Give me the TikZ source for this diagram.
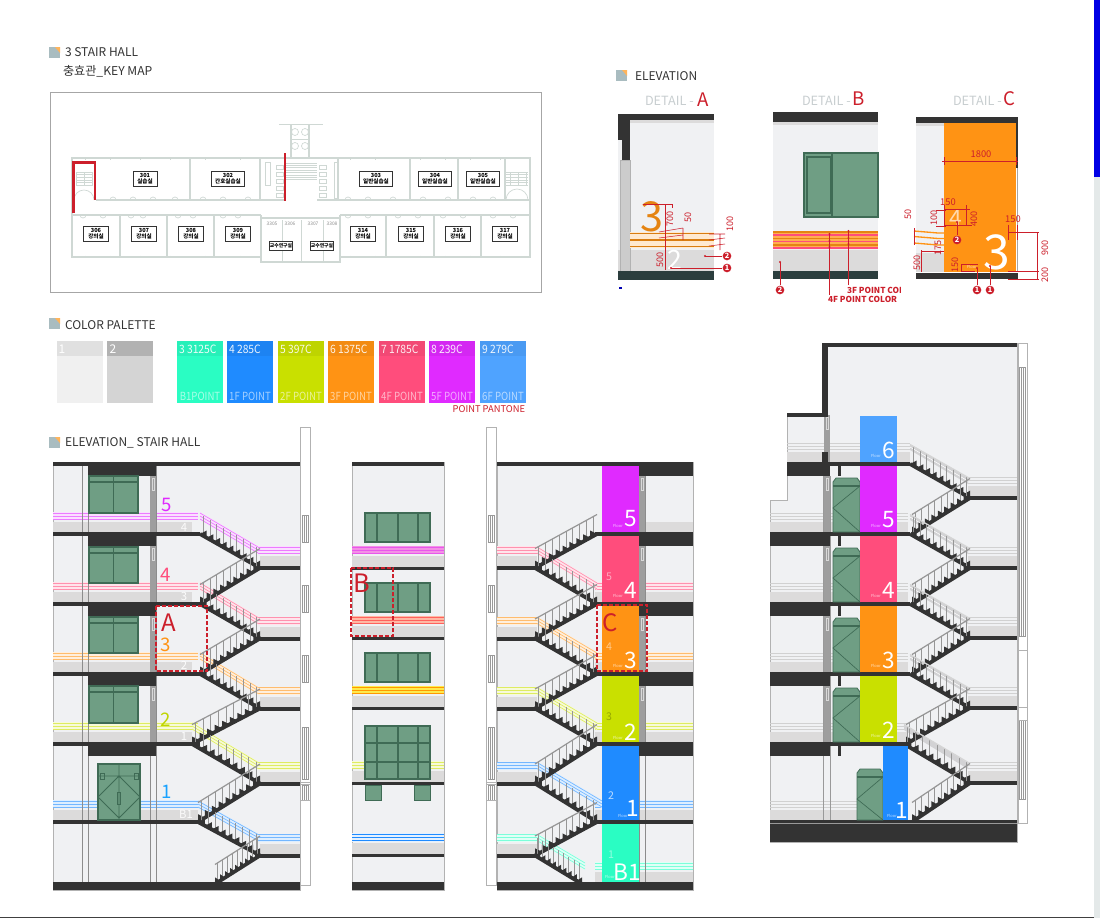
\documentclass[tikz,border=0pt]{standalone}
\usepackage{fontspec}
\setmainfont{Noto Sans CJK KR}
\usetikzlibrary{calc}
\definecolor{wallc}{HTML}{F0F1F3}
\definecolor{bandc}{HTML}{DCDBDB}
\definecolor{darkc}{HTML}{333333}
\definecolor{gfill}{HTML}{6F9E84}
\definecolor{gline}{HTML}{3F6B55}
\definecolor{redc}{HTML}{CC1F2B}
\definecolor{pmint}{HTML}{2AFDC3}
\definecolor{pblue}{HTML}{1F8BFF}
\definecolor{plime}{HTML}{C9E000}
\definecolor{porange}{HTML}{FF9314}
\definecolor{ppink}{HTML}{FF4D7C}
\definecolor{pmag}{HTML}{E02AFF}
\definecolor{psky}{HTML}{4FA3FF}
\definecolor{ptitle}{HTML}{A9BCC0}
\definecolor{planw}{HTML}{CFD8D4}
\definecolor{railg}{HTML}{969696}
\definecolor{railp}{HTML}{D2D2D4}
\definecolor{textc}{HTML}{333333}
\definecolor{detg}{HTML}{C8CED0}
\definecolor{edgec}{HTML}{E4E9E9}
\newcount\tcnt
\tikzset{
  txt/.style={inner sep=0pt,outer sep=0pt,text=textc},
  baluster/.style={draw=railg,line width=0.7pt},
  dimline/.style={draw=redc,line width=0.4pt},
  planwall/.style={draw=planw,line width=0.8pt},
  planthin/.style={draw=planw,line width=0.5pt},
  redbox/.style={draw=redc,line width=1.5pt,dash pattern=on 3pt off 1.5pt},
  gwin/.style={fill=gfill,draw=gline,line width=0.9pt},
  markc/.style={circle,fill=redc,text=white,inner sep=0pt,minimum size=6.5pt,font=\fontsize{5.5}{5.5}\selectfont\bfseries},
  roomlab/.style={draw=black!80,fill=white,line width=0.4pt,inner sep=0pt,align=center,text=black,font=\fontsize{4.2}{4.6}\selectfont\bfseries},
}
\newcommand\T[5][]{\global\advance\tcnt by 1 \node[txt,#1] (t\the\tcnt) at (#2,#3) {\fontsize{#4}{#4}\selectfont #5};}
\newcommand\icon[2]{\fill[ptitle] (#1,#2) rectangle ++(11,11);\fill[porange!70] (#1+6,#2) -- (#1+11,#2) -- (#1+11,#2+6) -- cycle;}
\newcommand\room[5]{\global\advance\tcnt by 1 \node[roomlab,minimum width=#3*0.75pt,minimum height=#4*0.75pt] (t\the\tcnt) at (#1,#2) {#5};}
% flight of steps: x1<x2
\newcommand\flight[5]{%
  \pgfmathsetmacro\fdx{(#3-#1)/9}\pgfmathsetmacro\fdy{(#4-#2)/9}%
  \foreach \i in {0,...,8}{%
    \pgfmathsetmacro\fxx{#1+\i*\fdx}\pgfmathsetmacro\fyy{#2+\i*\fdy}%
    \pgfmathsetmacro\fcx{\fdy>0 ? \fxx+\fdx : \fxx}\pgfmathsetmacro\fcy{\fdy>0 ? \fyy : \fyy+\fdy}%
    \draw[baluster] (\fxx+0.5*\fdx,\fyy+0.5*\fdy-2) -- (\fxx+0.5*\fdx,\fyy+0.5*\fdy-19.5);
    \fill[darkc] (\fxx,\fyy) -- (\fxx+\fdx,\fyy+\fdy) -- (\fcx,\fcy-3.5) -- cycle;
  }%
  \draw[darkc,line width=2.8pt] (#1,#2) -- (#3,#4);
  \draw[#5,line width=0.9pt] (#1,#2-19.5) -- (#3,#4-19.5);
}
\newcommand\crail[5]{%
  \fill[#5!15] (#1,#2-22) -- (#3,#4-22) -- (#3,#4-14) -- (#1,#2-14) -- cycle;
  \foreach \o in {21,18,15}{\draw[#5!62,line width=0.5pt] (#1,#2-\o) -- (#3,#4-\o);}
}
\newcommand\stripes[4]{% x1 x2 y colour
  \fill[#4!15] (#1,#3-22) rectangle (#2,#3-14);
  \foreach \o in {21,18,15}{\draw[#4!62,line width=0.5pt] (#1,#3-\o) -- (#2,#3-\o);}
}
\newcommand\grayst[3]{% x1 x2 y
  \foreach \o in {21,18,15}{\draw[black!18,line width=0.5pt] (#1,#3-\o) -- (#2,#3-\o);}
}
\newcommand\band[3]{\fill[bandc] (#1,#3-12) rectangle (#2,#3-2);}
\newcommand\wina[2]{\draw[gwin] (89,#1) rectangle (138,#2);\draw[gline,line width=0.8pt] (89,#1+6) -- (138,#1+6) (113.5,#1) -- (113.5,#2);}
\newcommand\winb[2]{\draw[gwin] (365,#1) rectangle (430,#2);\draw[gline,line width=0.8pt] (377,#1) -- (377,#2) (398,#1) -- (398,#2) (418,#1) -- (418,#2);}
\newcommand\pillar[3]{\fill[black!38] (#1,#2) rectangle (#1+6,#3);\draw[black!15,line width=0.4pt] (#1+2,#2+2) rectangle (#1+4,#2+14);}
\newcommand\swin[3]{\draw[black!40,line width=0.4pt,fill=white] (#1+2,#2) rectangle (#1+8,#3);\draw[black!40,line width=0.4pt] (#1+4,#2) -- (#1+4,#3) (#1+6,#2) -- (#1+6,#3);}
\newcommand\striph[1]{%
  \draw[black!30,line width=0.5pt,fill=white] (#1,427) rectangle (#1+10,885);
  \swin{#1}{515}{542}\swin{#1}{585}{612}\swin{#1}{655}{682}\swin{#1}{727}{779}\swin{#1}{785}{800}
  \draw[black!30,line width=0.4pt] (#1,782) -- (#1+10,782) (#1,784) -- (#1+10,784) (#1,800) -- (#1+10,800);
}
\newcommand\pdoor[4]{% x1 x2 ytop ybot
  \draw[gwin,line width=0.6pt] (#1,#3+4) -- (#1+3,#3) -- (#2-3,#3) -- (#2,#3+4) -- (#2,#4) -- (#1,#4) -- cycle;
  \draw[gline,line width=1pt] (#1,#3+8) -- (#2,#3+8);
  \draw[gline,line width=0.5pt] (#2,#3+8) -- (#1,#3+30) -- (#2,#4);
}
\newcommand\colnum[4]{\T[text=white]{#1}{#2}{#3}{#4}}
\newcommand\floorw[2]{\T[text=white,opacity=.75]{#1}{#2}{3}{Floor}}
\newcommand\lead[6]{% dot x,y marker x,y, name, n
  \coordinate (d#5) at (#1,#2);
  \node[markc] (m#5) at (#3,#4) {#6};
  \fill[redc] (d#5) circle (1.2);
  \draw[dimline] (d#5) -- (m#5);
}
\begin{document}
\begin{tikzpicture}[x=0.75pt,y=-0.75pt]
\useasboundingbox (0,0) rectangle (1100,918);
\fill[white] (0,0) rectangle (1100,918);
% page edge
\fill[edgec] (1094,0) rectangle (1100,918);
\fill[blue!90!black] (1094,0) rectangle (1100,177);
\fill[black!75] (0,917) rectangle (1094,918);
% titles
\icon{49}{47}
\T[anchor=west]{65}{52}{9}{3 STAIR HALL}
\T[anchor=west]{63}{71}{9.1}{충효관\_KEY MAP}
\icon{616}{70}
\T[anchor=west]{635}{76}{9}{ELEVATION}
\icon{49}{318}
\T[anchor=west]{65}{325}{9}{COLOR PALETTE}
\icon{49}{437}
\T[anchor=west]{65}{443}{9}{ELEVATION\_ STAIR HALL}
% ---------- key map
\draw[black!35,line width=0.6pt,fill=white] (50.5,92) rectangle (541.5,292);
\draw[planwall] (72,158) -- (530,158) -- (530,257) -- (340,257) -- (340,262) -- (261,262) -- (261,257) -- (72,257) -- cycle;
\draw[planwall] (96,200) -- (285,200) (317,200) -- (530,200);
\draw[planwall] (72,215) -- (261,215) (340,215) -- (530,215);
\foreach \x in {190,260,338,410,458,505}{\draw[planwall] (\x,158) -- (\x,200);}
\foreach \x in {120,167,214,261,340,386,434,481}{\draw[planwall] (\x,215) -- (\x,257);}
\foreach \x in {282,301,323}{\draw[planthin] (\x,220) -- (\x,262);}
\draw[planwall] (261,218) -- (340,218);
\foreach \x in {110,130,150,172,200,220,245,345,365,390,420,445,470,490}{\draw[planthin] (\x,200) arc (180:360:3);}
\foreach \x in {80,100,128,140,175,190,220,235,345,365,395,415,440,460,490,510}{\draw[planthin] (\x,215) arc (180:0:3);}
\foreach \x in {85,110,140,170,205,240,350,375,420,445,470,500}{\draw[planthin] (\x,158) -- (\x,159.5) (\x,255.5) -- (\x,257);}
% annex and stairs
\draw[planwall] (291,158) -- (291,124) (309,124) -- (309,158);
\draw[planthin] (279,124) -- (323,124);
\foreach \y in {132,146}{\draw[planthin] (295,\y) circle (3.5) (305,\y) circle (3.5);}
\draw[planthin] (291,139) -- (309,139);
\foreach \i in {0,...,5}{\draw[planthin] (76,172+\i*2.7) -- (92,172+\i*2.7) (506,172+\i*2.7) -- (528,172+\i*2.7);}
\foreach \i in {0,...,7}{\draw[planthin] (286,163+\i*2.4) -- (317,163+\i*2.4);}
\foreach \x in {76,84,92,510,518,526}{\draw[planthin] (\x,172) -- (\x,186);}
\draw[planthin] (74,200) arc (180:270:10) (94,200) arc (0:-90:10) (506,200) arc (180:270:11) (528,200) arc (0:-90:11);
\foreach \y in {165,172,179,186,193}{\draw[planthin] (276,\y) rectangle (283,\y+4) (319,\y) rectangle (326,\y+4);}
\draw[planthin] (265,162) rectangle (270,185);
\draw[planthin] (334,162) rectangle (337,198);
\draw[redc,line width=1.7pt] (73.5,213) -- (73.5,162.5) -- (95,162.5) -- (95,200);
\draw[redc,line width=1.7pt] (285,153) -- (285,201);
\room{145}{179}{24}{15}{301\\실습실}
\room{228}{179}{33}{15}{302\\간호실습실}
\room{376}{179}{33}{15}{303\\일반실습실}
\room{435}{179}{33}{15}{304\\일반실습실}
\room{483}{179}{33}{15}{305\\일반실습실}
\room{96}{234}{25}{15}{306\\강의실}
\room{144}{234}{25}{15}{307\\강의실}
\room{191}{234}{25}{15}{308\\강의실}
\room{238}{234}{25}{15}{309\\강의실}
\room{363}{234}{25}{15}{314\\강의실}
\room{411}{234}{25}{15}{315\\강의실}
\room{458}{234}{25}{15}{316\\강의실}
\room{505}{234}{25}{15}{317\\강의실}
\room{281}{246}{23}{9}{\fontsize{3.6}{4}\selectfont 교수연구실}
\room{322}{246}{23}{9}{\fontsize{3.6}{4}\selectfont 교수연구실}
\T[text=black!45]{272}{224}{3.6}{3305}
\T[text=black!45]{290}{224}{3.6}{3306}
\T[text=black!45]{313}{224}{3.6}{3307}
\T[text=black!45]{332}{224}{3.6}{3308}
% ---------- palette
\fill[black!6!white] (57,341) rectangle (103,403);
\fill[black!12!white] (57,341) rectangle (103,356);
\fill[black!17!white] (107,341) rectangle (153,403);
\fill[black!30!white] (107,341) rectangle (153,356);
\T[text=white]{62}{349}{9}{1}
\T[text=white]{113}{349}{9}{2}
\newcommand\swatch[5]{\fill[#2] (#1,341) rectangle ++(46,62);\fill[black,opacity=.05] (#1,341) rectangle ++(46,15);
 \T[text=white,opacity=.9,anchor=west]{#1+2}{349}{8.6}{\scalebox{.9}[1]{#3}}\T[text=white,opacity=.6]{#1+23}{396}{8.4}{\scalebox{.86}[1]{#4}}}
\swatch{177}{pmint}{3 3125C}{B1POINT}{}
\swatch{227}{pblue}{4 285C}{1F POINT}{}
\swatch{278}{plime}{5 397C}{2F POINT}{}
\swatch{328}{porange}{6 1375C}{3F POINT}{}
\swatch{379}{ppink}{7 1785C}{4F POINT}{}
\swatch{429}{pmag}{8 239C}{5F POINT}{}
\swatch{480}{psky}{9 279C}{6F POINT}{}
\T[text=redc,anchor=east]{525}{409}{7}{POINT PANTONE}
% ---------- detail A
\T[text=detg,anchor=west]{645}{101}{9.5}{DETAIL -}
\T[text=redc]{703}{100}{14}{A}
\fill[wallc] (618,114) rectangle (714,272);
\fill[bandc] (618,250) rectangle (714,272);
\fill[bandc] (630,120) rectangle (714,123);
\fill[darkc] (618,114) rectangle (714,120);
\fill[darkc] (618,114) rectangle (630,140);
\fill[darkc] (622,140) rectangle (630,160);
\draw[black!30,fill=black!20,line width=0.4pt] (620,160) rectangle (630,275);
\fill[porange!20] (630,232) rectangle (714,248);
\foreach \y in {233.5,240,246.5}{\draw[porange!85!black,line width=1.3pt] (630,\y) -- (714,\y);}
\fill[darkc!85!teal] (618,271) rectangle (714,280);
\T[text=porange!90!black]{652}{217}{31}{3}
\T[text=white]{675}{260}{20}{2}
\draw[dimline] (643,204) -- (672,204) (665,204) -- (665,270) (672,204) -- (672,208);
\draw[dimline] (659,232) -- (683,228) (659,238) -- (683,235) (683,228) -- (683,240);
\draw[dimline] (709,234) -- (725,234) (709,240) -- (725,238) (709,246) -- (725,244) (720,234) -- (720,250);
\T[text=redc,rotate=90]{670}{219}{6.8}{700}
\T[text=redc,rotate=90]{688}{217}{6.8}{50}
\T[text=redc,rotate=90]{730}{224}{6.8}{100}
\T[text=redc,rotate=90]{660}{260}{6.8}{500}
\lead{705}{256}{727}{256}{a2}{2}
\lead{671}{268}{727}{268}{a1}{1}
\fill[blue!70!black] (619,287) rectangle (622,289);
% ---------- detail B
\T[text=detg,anchor=west]{802}{101}{9.5}{DETAIL -}
\T[text=redc]{859}{99}{14}{B}
\fill[wallc] (773,112) rectangle (878,272);
\fill[darkc] (773,112) rectangle (878,122);
\fill[bandc] (773,122) rectangle (878,125);
\fill[bandc] (773,250) rectangle (878,271);
\draw[gwin] (804,153) rectangle (878,217);
\draw[gline,line width=1pt] (832,153) -- (832,217) (807,157) rectangle (831,213);
\fill[porange!75] (773,231) rectangle (878,248);
\foreach \y in {232,238.5,245}{\draw[porange!90!black,line width=1pt] (773,\y) -- (878,\y);}
\foreach \y in {235,241.5,248}{\draw[ppink,line width=0.9pt] (773,\y) -- (878,\y);}
\fill[darkc!85!teal] (773,271) rectangle (878,279);
\foreach \y in {234,241,247}{\fill[redc] (829.5,\y) circle (1.2);}
\foreach \y in {231,238,244}{\fill[redc] (848.5,\y) circle (1.2);}
\draw[dimline] (829.5,234) -- (829.5,295) (848.5,231) -- (848.5,285);
\begin{scope}
\clip (760,280) rectangle (900,306);
\T[text=redc,anchor=west,font=\bfseries]{847}{290}{6.2}{3F POINT COLOR}
\T[text=redc,anchor=west,font=\bfseries]{828}{299}{6.2}{4F POINT COLOR}
\end{scope}
\lead{780}{262}{780}{290}{b2}{2}
% ---------- detail C
\T[text=detg,anchor=west]{953}{101}{9.5}{DETAIL -}
\T[text=redc]{1009}{99}{14}{C}
\fill[wallc] (916,117) rectangle (944,272);
\fill[bandc] (916,253) rectangle (944,272);
\fill[bandc] (916,123) rectangle (944,126);
\fill[porange] (944,123) rectangle (1016,272);
\fill[darkc] (916,117) rectangle (1018,123);
\fill[darkc] (1016,117) rectangle (1018,168);
\fill[black!35] (1016.5,168) rectangle (1018,272);
\fill[darkc] (916,273) rectangle (1018,279);
\foreach \y in {231,236.5,243}{\draw[porange,line width=1pt] (914,\y) -- (938,\y+2) -- (944,\y+2);}
\T[text=white]{997}{252}{36}{3}
\T[text=white,opacity=.65]{956}{218}{17}{4}
\floorw{972}{267}
\draw[dimline] (942,161) -- (1018,161) (944,157) -- (944,165) (1016,157) -- (1016,165);
\T[text=redc]{981}{154}{7}{1800}
\draw[dimline] (944,209) -- (970,209) (944,225) -- (972,225) (944,205) -- (944,226) (966,205) -- (966,226);
\T[text=redc]{948}{202}{7}{150}
\T[text=redc,rotate=90]{974}{219}{6.8}{400}
\T[text=redc,rotate=90]{934}{218}{6.8}{100}
\T[text=redc,rotate=90]{908}{214}{6.8}{50}
\T[text=redc,rotate=90]{938}{248}{6.8}{175}
\T[text=redc,rotate=90]{917}{263}{6.8}{500}
\T[text=redc,rotate=90]{955}{265}{6.8}{150}
\T[text=redc]{1013}{219}{7}{150}
\T[text=redc,rotate=90]{1045}{248}{6.8}{900}
\T[text=redc,rotate=90]{1045}{275}{6.8}{200}
\draw[dimline] (1008,232) -- (1039,232) (1037,232) -- (1037,279) (1008,271) -- (1039,271) (1008,279) -- (1039,279);
\draw[dimline] (1008,225) -- (1008,240) (1017,225) -- (1017,240);
\draw[dimline] (961,264) -- (961,271) (961,264) -- (978,264) (961,271) -- (975,271);
\draw[dimline] (914,228) -- (914,245) (921,250) -- (921,272) (921,251) -- (944,251);
\draw[dimline] (936,210) -- (946,210) (936,226) -- (946,226);
\lead{957}{222}{957}{240}{c2}{2}
\lead{977}{268}{977}{290}{c1}{1}
\lead{990}{266}{990}{290}{c3}{1}
% ---------- panel 1
\striph{300}
\fill[wallc] (53,462) rectangle (300,890);
\draw[black!30,line width=0.5pt] (53,462) rectangle (300,890);
\foreach \y/\c in {534/pmag,604/ppink,674/porange,744/plime}{\band{53}{192}{\y}\stripes{53}{198}{\y}{\c}}
\band{53}{198}{822}\stripes{53}{198}{822}{pblue}
\foreach \y/\c in {568/pmag,638.5/ppink,708.5/porange,783.5/plime,855.5/pblue}{\band{260}{300}{\y}\stripes{258}{300}{\y}{\c}}
\foreach \x in {82.5,88.5,150,156}{\draw[black!45,line width=0.4pt] (\x,462) -- (\x,882);}
\foreach \a/\b in {476/532,546/602,616/672,686/742}{\pillar{150}{\a}{\b}}
\crail{200}{534}{258}{568}{pmag}\crail{200}{604}{258}{638.5}{ppink}\crail{200}{674}{258}{708.5}{porange}\crail{192}{744}{258}{783.5}{plime}\crail{198}{822}{258}{855.5}{pblue}
\flight{200}{534}{260}{568}{opacity=0}
\flight{200}{604}{260}{568}{railg}
\flight{200}{604}{260}{638.5}{opacity=0}
\flight{200}{674}{260}{638.5}{railg}
\flight{200}{674}{260}{708.5}{opacity=0}
\flight{192}{744}{260}{708.5}{railg}
\flight{192}{744}{260}{783.5}{opacity=0}
\flight{198}{822}{260}{783.5}{railg}
\flight{198}{822}{260}{855.5}{opacity=0}
\flight{215}{884}{260}{855.5}{railg}
\fill[darkc] (53,462) rectangle (300,466);
\foreach \y in {534,604,674,744,822}{\fill[darkc] (53,\y-2) rectangle (200,\y+2);}
\foreach \y in {568,638.5,708.5,783.5,855.5}{\fill[darkc] (260,\y-2) rectangle (300,\y+2);}
\fill[darkc] (53,882) rectangle (300,890);
\foreach \a in {462,532,602,672,742}{\fill[darkc] (88,\a) rectangle (156,\a+14);}
\wina{476}{513}\wina{547}{583}\wina{617}{653}\wina{686}{723}
\draw[gwin] (98,764) rectangle (140,820);
\draw[gline,line width=0.6pt] (119,764) -- (119,820) (119,776) -- (140,797) -- (119,818) -- (98,797) -- cycle (98,776) -- (140,776);
\draw[gline,line width=0.6pt] (117.5,792) rectangle (120.5,804) (100,773) rectangle (104,779) (134,773) rectangle (138,779);
\T[text=pmag]{167}{505}{14}{5}
\T[text=ppink]{166}{575}{14}{4}
\T[text=porange]{166}{645}{14}{3}
\T[text=plime!95!black]{166}{720}{14}{2}
\T[text=pblue!80!cyan]{167}{792}{14}{1}
\T[text=white,opacity=.9]{184}{527}{8.5}{4}
\T[text=white,opacity=.9]{184}{596}{8.5}{3}
\T[text=white,opacity=.9]{184}{665}{8.5}{2}
\T[text=white,opacity=.9]{184}{736}{8.5}{1}
\T[text=white,opacity=.9]{186}{814}{8.5}{B1}
% ---------- panel 2
\fill[wallc] (352,462) rectangle (444,890);
\draw[black!30,line width=0.5pt] (352,462) rectangle (444,890);
\foreach \y in {568,638,708,783,855}{\fill[bandc] (352,\y-12) rectangle (444,\y-1);}
\fill[pmag!50!pink!80!white] (352,546) rectangle (444,554);
\foreach \y in {547,550,553}{\draw[pmag!70!pink,line width=0.5pt] (352,\y) -- (444,\y);}
\fill[porange!50!ppink!50!white] (352,616) rectangle (444,624);
\foreach \y in {617,620,623}{\draw[ppink!70!porange,line width=0.5pt] (352,\y) -- (444,\y);}
\fill[yellow!85!orange!70!white] (352,686) rectangle (444,694);
\foreach \y in {687,690,693}{\draw[orange!80!yellow,line width=0.5pt] (352,\y) -- (444,\y);}
\stripes{352}{444}{783}{plime}
\fill[pblue!12] (352,833) rectangle (444,842);
\foreach \y in {834,837,840}{\draw[pblue,line width=0.55pt] (352,\y) -- (444,\y);}
\fill[darkc] (352,462) rectangle (444,466);
\foreach \y in {568,638,708,783,855}{\fill[darkc] (352,\y-1.5) rectangle (444,\y+1.5);}
\fill[darkc] (352,882) rectangle (444,890);
\winb{513}{542}\winb{583}{612}\winb{653}{682}
\winb{726}{779}
\draw[gline,line width=0.8pt] (365,743) -- (430,743) (365,762) -- (430,762);
\draw[gwin,line width=.6pt] (365,785) rectangle (381,800) (414,785) rectangle (430,800);
% ---------- panel 3
\striph{486}
\fill[wallc] (497,462) rectangle (693,890);
\draw[black!30,line width=0.5pt] (497,462) rectangle (693,890);
\foreach \y/\c in {568/ppink,638.5/porange,708.5/plime,783.5/pblue,855.5/pmint}{\band{497}{537}{\y}\stripes{497}{537}{\y}{\c}}
\band{645}{693}{534}
\foreach \y/\c in {604/ppink,674/porange,744/plime,822/pblue,884/pmint}{\band{595}{693}{\y}\stripes{595}{693}{\y}{\c}}
\foreach \x in {639,645}{\draw[black!45,line width=0.4pt] (\x,462) -- (\x,882);}
\foreach \a/\b in {476/532,546/602,616/672,686/742}{\pillar{639}{\a}{\b}}
\crail{537}{568}{597}{604}{ppink}\crail{537}{638.5}{597}{674}{porange}\crail{537}{708.5}{597}{744}{plime}\crail{537}{783.5}{602}{822}{pblue}\crail{537}{855.5}{585}{884}{pmint}
\flight{535}{568}{597}{534}{railg}
\flight{535}{568}{597}{604}{opacity=0}
\flight{535}{638.5}{597}{604}{railg}
\flight{535}{638.5}{597}{674}{opacity=0}
\flight{535}{708.5}{597}{674}{railg}
\flight{535}{708.5}{597}{744}{opacity=0}
\flight{535}{783.5}{597}{744}{railg}
\flight{535}{783.5}{597}{822}{opacity=0}
\flight{535}{855.5}{597}{822}{railg}
\flight{535}{855.5}{582}{884}{opacity=0}
\fill[darkc] (497,462) rectangle (693,466);
\foreach \y in {534,604,674,744,822}{\fill[darkc] (595,\y-2) rectangle (693,\y+2);}
\foreach \y in {568,638.5,708.5,783.5,855.5}{\fill[darkc] (497,\y-2) rectangle (537,\y+2);}
\fill[darkc] (497,882) rectangle (693,890);
\foreach \a in {462,532,602,672,742}{\fill[darkc] (639,\a) rectangle (693,\a+14);}
\fill[pmag] (602,466) rectangle (639,532);
\fill[ppink] (602,536) rectangle (639,602);
\fill[porange] (602,606) rectangle (639,672);
\fill[plime] (602,676) rectangle (639,742);
\fill[pblue] (602,746) rectangle (639,820);
\fill[pmint] (602,824) rectangle (639,882);
\colnum{631}{519}{17}{5}\colnum{631}{590}{17}{4}\colnum{631}{660}{17}{3}\colnum{631}{732}{17}{2}\colnum{633}{808}{17}{1}\colnum{627}{872}{17}{B1}
\floorw{618}{526}\floorw{618}{596}\floorw{618}{666}\floorw{618}{738}\floorw{623}{816}\floorw{610}{877}
\T[text=white,opacity=.5]{609}{577}{8}{5}
\T[text=white,opacity=.5]{609}{647}{8}{4}
\T[text=black,opacity=.25]{609}{717}{8}{3}
\T[text=white,opacity=.7]{611}{796}{8}{2}
\T[text=white,opacity=.5]{611}{855}{8}{1}
% ---------- panel 4
\draw[black!30,line width=0.5pt,fill=white] (1018,343) rectangle (1027,823);
\swin{1017.5}{367}{636}\swin{1017.5}{720}{799}
\draw[black!30,line width=0.4pt] (1018,650) -- (1027,650) (1018,707) -- (1027,707) (1018,720) -- (1027,720);
\draw[black!30,line width=0.5pt,fill=wallc] (822,343) -- (1017,343) -- (1017,842) -- (770,842) -- (770,500) -- (787,500) -- (787,415) -- (822,415) -- cycle;
\foreach \y in {464}{\band{787}{910}{\y}\grayst{787}{910}{\y}}
\foreach \y in {534,604,674,744}{\band{770}{908}{\y}\grayst{770}{908}{\y}}
\band{770}{885}{822}\grayst{770}{885}{822}
\foreach \y in {498,568,638,708,783}{\band{968}{1017}{\y}\grayst{968}{1017}{\y}}
\foreach \x in {823,830}{\draw[black!40,line width=0.4pt] (\x,476) -- (\x,820);}
\foreach \a/\b in {415/463,476/532,546/602,616/672,686/742}{\pillar{824}{\a}{\b}}
\fill[darkc] (822,343) rectangle (1017,347);
\fill[darkc] (822,343) rectangle (828,417);
\fill[darkc] (787,413) rectangle (828,417);
\fill[darkc] (822,452) rectangle (828,462);
\foreach \y/\v in {464/498,534/568,604/638,674/708}{\fill[railp] (910,\y-20) -- (968,\v-20) -- (968,\v-14) -- (910,\y-14) -- cycle;\draw[white,line width=0.4pt] (910,\y-17) -- (968,\v-17);}
\fill[railp] (904,724) -- (968,763) -- (968,769) -- (904,730) -- cycle;
\flight{910}{464}{970}{498}{railg!40!white}
\flight{912}{534}{970}{498}{railg}
\flight{910}{534}{970}{568}{railg!40!white}
\flight{912}{604}{970}{568}{railg}
\flight{910}{604}{970}{638}{railg!40!white}
\flight{912}{674}{970}{638}{railg}
\flight{910}{674}{970}{708}{railg!40!white}
\flight{906}{744}{970}{708}{railg}
\flight{904}{744}{970}{783}{railg!40!white}
\flight{912}{822}{970}{783}{railg}
\foreach \y in {464}{\fill[darkc] (828,\y-2) rectangle (910,\y+2);}
\foreach \y in {534,604,674,744}{\fill[darkc] (770,\y-2) rectangle (910,\y+2);}
\foreach \y in {498,568,638,708,783}{\fill[darkc] (970,\y-2) rectangle (1017,\y+2);}
\fill[darkc] (770,820) rectangle (1017,842);
\draw[black!40,line width=0.3pt] (770,823) -- (1017,823);
\fill[darkc] (787,462) rectangle (830,476);
\foreach \a in {532,602,672,742}{\fill[darkc] (770,\a) rectangle (830,\a+14);}
\foreach \a in {466,536,606,676,746}{\fill[darkc] (838,\a) rectangle (841,\a+10);}
\pdoor{833}{860}{478}{532}\pdoor{833}{860}{548}{602}\pdoor{833}{860}{618}{672}\pdoor{833}{860}{688}{742}\pdoor{857}{883}{769}{820}
\fill[psky] (860,416) rectangle (897,462);
\fill[pmag] (860,466) rectangle (897,532);
\fill[ppink] (860,536) rectangle (897,602);
\fill[porange] (860,606) rectangle (897,672);
\fill[plime] (860,676) rectangle (897,742);
\fill[pblue] (883,746) rectangle (908,820);
\colnum{889}{450}{17}{6}\colnum{889}{520}{17}{5}\colnum{889}{590}{17}{4}\colnum{889}{660}{17}{3}\colnum{889}{730}{17}{2}\colnum{902}{810}{17}{1}
\floorw{876}{456}\floorw{876}{526}\floorw{876}{596}\floorw{876}{666}\floorw{876}{736}\floorw{892}{816}
% ---------- red boxes
\draw[redbox] (156,606) rectangle (207,671);
\T[text=redc]{169}{623}{18}{A}
\draw[redbox] (351,568) rectangle (393,636);
\T[text=redc]{362}{583}{19}{B}
\draw[redbox] (597,605) rectangle (647,671);
\T[text=redc]{610}{623}{18}{C}
\end{tikzpicture}
\end{document}
